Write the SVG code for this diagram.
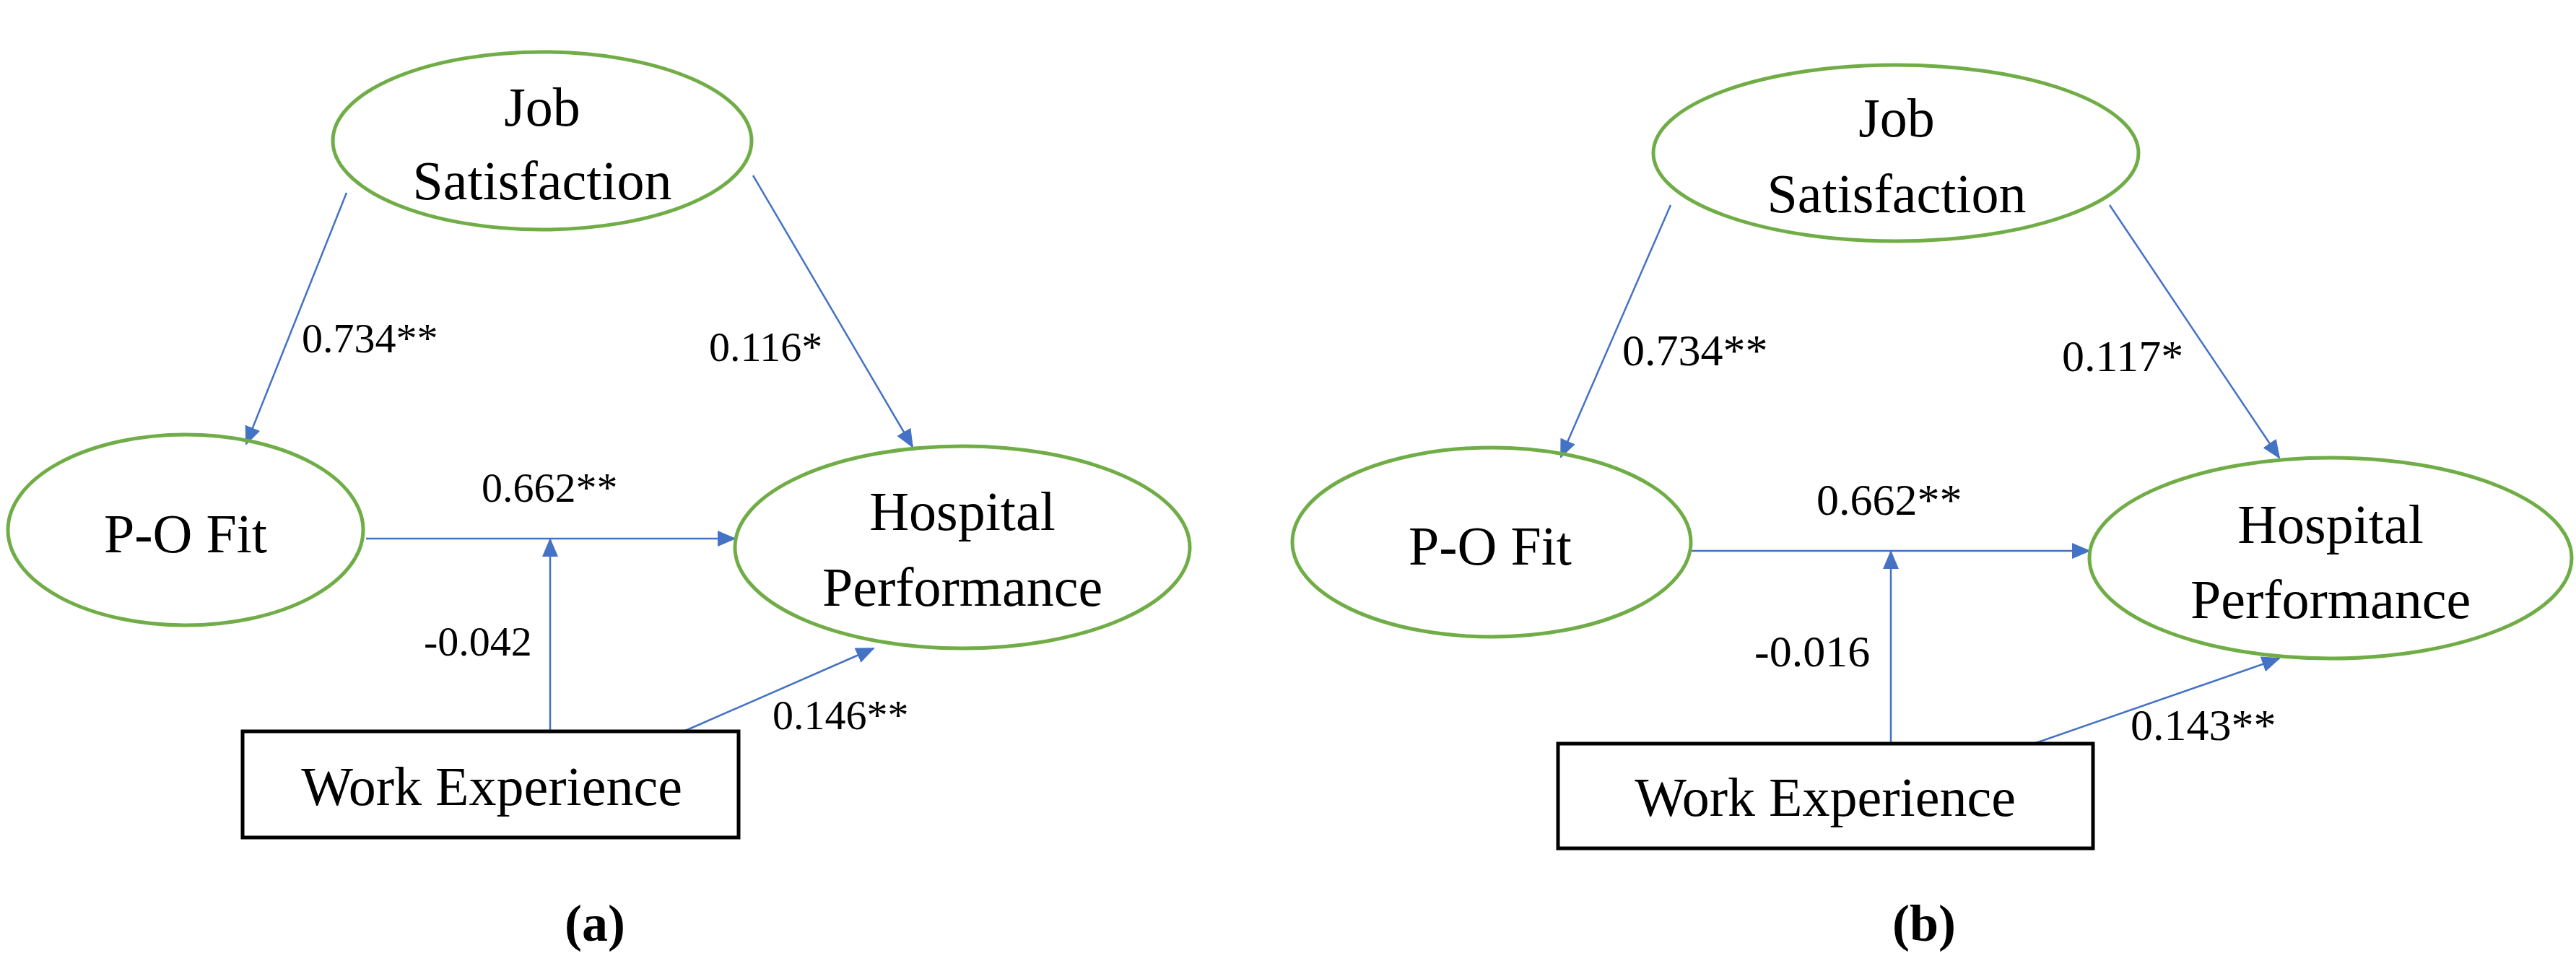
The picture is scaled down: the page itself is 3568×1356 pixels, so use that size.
<svg xmlns="http://www.w3.org/2000/svg" width="3568" height="1356" viewBox="0 0 3568 1356">
<style>
.e{fill:none;stroke:#70AD47;stroke-width:5}
.r{fill:#fff;stroke:#000;stroke-width:5}
.l{stroke:#4472C4;stroke-width:2.5;fill:none;marker-end:url(#ah)}
.t{font-family:"Liberation Serif",serif;font-size:76px;fill:#000;text-anchor:middle}
.n{font-family:"Liberation Serif",serif;font-size:58px;fill:#000}
.n2{font-family:"Liberation Serif",serif;font-size:62px;fill:#000}
.c{font-family:"Liberation Serif",serif;font-size:72px;font-weight:bold;fill:#000;text-anchor:middle}
</style>
<defs><marker id="ah" markerUnits="userSpaceOnUse" markerWidth="26" markerHeight="22" refX="24" refY="11" orient="auto"><path d="M0,0 L26,11 L0,22 z" fill="#4472C4"/></marker></defs>
<rect width="3568" height="1356" fill="#fff"/>
<g id="connectors">
<line class="l" x1="480" y1="267" x2="341" y2="615"/>
<line class="l" x1="1043" y1="243" x2="1264" y2="619"/>
<line class="l" x1="507" y1="746" x2="1018" y2="746"/>
<line class="l" x1="762" y1="1013" x2="762" y2="747"/>
<line class="l" x1="947" y1="1013" x2="1210" y2="898"/>
<line class="l" x1="2314" y1="284" x2="2162" y2="633"/>
<line class="l" x1="2922" y1="284" x2="3157" y2="634"/>
<line class="l" x1="2341" y1="763" x2="2894" y2="763"/>
<line class="l" x1="2619" y1="1030" x2="2619" y2="764"/>
<line class="l" x1="2817" y1="1030" x2="3157" y2="912"/>
</g>
<g id="a-js"><ellipse class="e" cx="751" cy="195" rx="290" ry="123"/><text class="t" x="751" y="174">Job</text><text class="t" x="751" y="276">Satisfaction</text></g>
<g id="a-po"><ellipse class="e" cx="257" cy="734" rx="246" ry="132"/><text class="t" x="257" y="765">P-O Fit</text></g>
<g id="a-hp"><ellipse class="e" cx="1333" cy="758" rx="315" ry="140"/><text class="t" x="1333" y="734">Hospital</text><text class="t" x="1333" y="839">Performance</text></g>
<g id="a-we"><rect class="r" x="336" y="1013" width="687" height="147"/><text class="t" x="681" y="1115">Work Experience</text></g>
<g id="a-labels">
<text class="n" x="418" y="488">0.734**</text>
<text class="n" x="982" y="500">0.116*</text>
<text class="n" x="667" y="695">0.662**</text>
<text class="n" x="587" y="908">-0.042</text>
<text class="n" x="1070" y="1010">0.146**</text>
<text class="c" x="824" y="1303">(a)</text>
</g>
<g id="b-js"><ellipse class="e" cx="2626" cy="212" rx="336" ry="122"/><text class="t" x="2627" y="189">Job</text><text class="t" x="2627" y="294">Satisfaction</text></g>
<g id="b-po"><ellipse class="e" cx="2066" cy="751" rx="276" ry="131"/><text class="t" x="2064" y="782">P-O Fit</text></g>
<g id="b-hp"><ellipse class="e" cx="3228" cy="773" rx="334" ry="139"/><text class="t" x="3228" y="752">Hospital</text><text class="t" x="3228" y="856">Performance</text></g>
<g id="b-we"><rect class="r" x="2158" y="1030" width="741" height="145"/><text class="t" x="2528" y="1130">Work Experience</text></g>
<g id="b-labels">
<text class="n2" x="2247" y="506">0.734**</text>
<text class="n2" x="2856" y="514">0.117*</text>
<text class="n2" x="2516" y="713">0.662**</text>
<text class="n2" x="2430" y="923">-0.016</text>
<text class="n2" x="2951" y="1025">0.143**</text>
<text class="c" x="2665" y="1303">(b)</text>
</g>
</svg>
